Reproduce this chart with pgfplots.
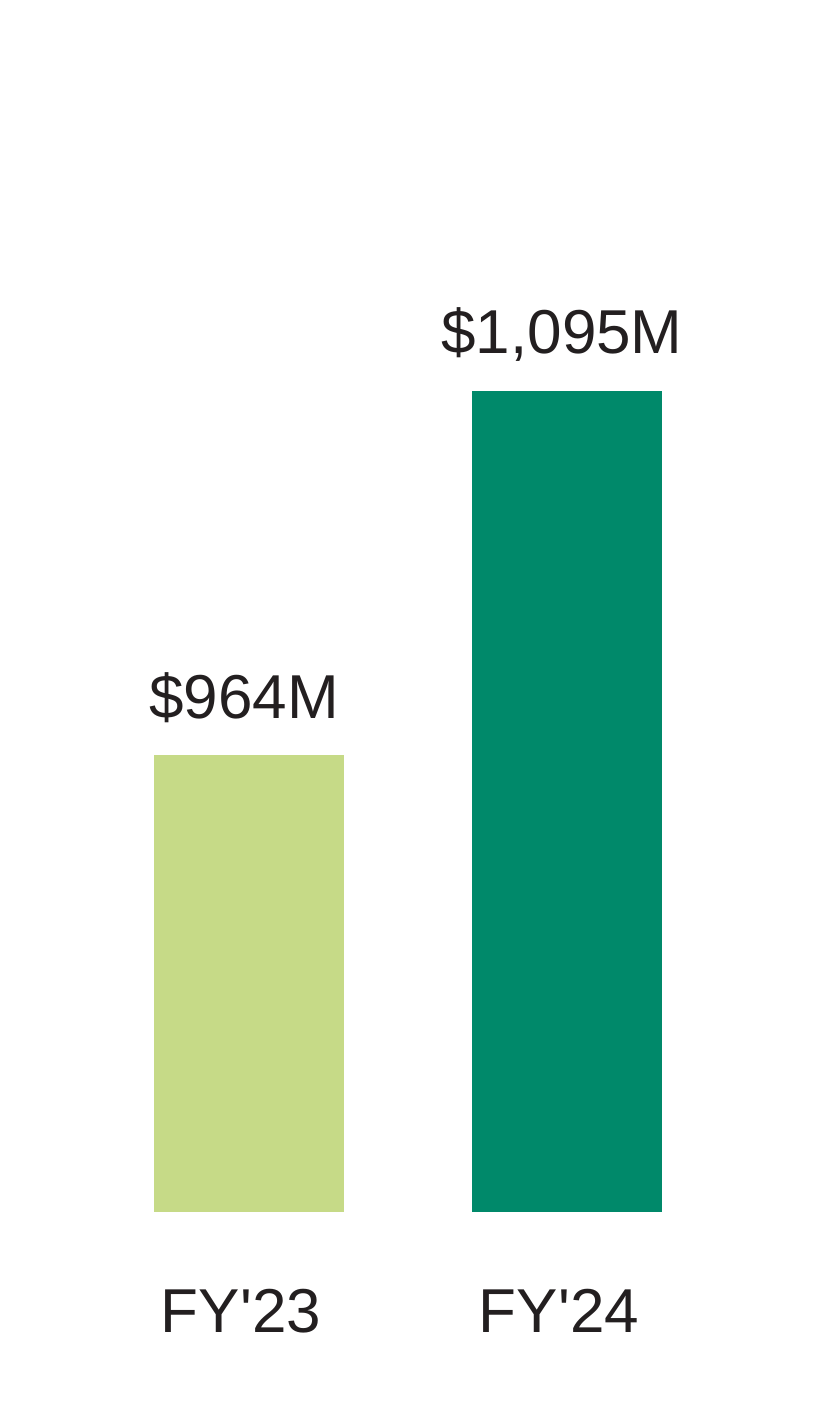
\documentclass[border=0pt]{standalone}
\usepackage{fontspec}
\setmainfont{Liberation Sans}
\usepackage{pgfplots}
\pgfplotsset{compat=1.18}
\definecolor{lightgreen}{HTML}{C6DA87}
\definecolor{darkgreen}{HTML}{00896A}
\definecolor{txt}{HTML}{231F20}
\begin{document}
\begin{tikzpicture}
\begin{axis}[
  anchor=south west, at={(0,0)},
  scale only axis,
  width=408bp, height=606bp,
  xmin=-0.7830, xmax=1.7830,
  ymin=800, ymax=1235.3,
  axis line style={draw=none},
  tick style={draw=none},
  ytick=\empty,
  xtick={0,1},
  xticklabels={FY\textquotesingle 23,FY\textquotesingle 24},
  xticklabel style={anchor=base, yshift=-56bp, xshift=-4bp, text=txt, font=\fontsize{31bp}{34bp}\selectfont, inner sep=0pt},
  ybar, bar width=95bp,
  nodes near coords,
  point meta=explicit symbolic,
  every node near coord/.append style={anchor=base, yshift=18.5bp, xshift=-2.5bp, text=txt, font=\fontsize{31bp}{34bp}\selectfont, inner sep=0pt},
]
\addplot[draw=none, fill=lightgreen, bar shift=0pt] coordinates {(0,964) [\$964M]};
\addplot[draw=none, fill=darkgreen, bar shift=0pt] coordinates {(1,1095) [\$1,095M]};
\end{axis}
\pgfresetboundingbox
\useasboundingbox (0,-105bp) rectangle (408bp,606bp);
\end{tikzpicture}
\end{document}
